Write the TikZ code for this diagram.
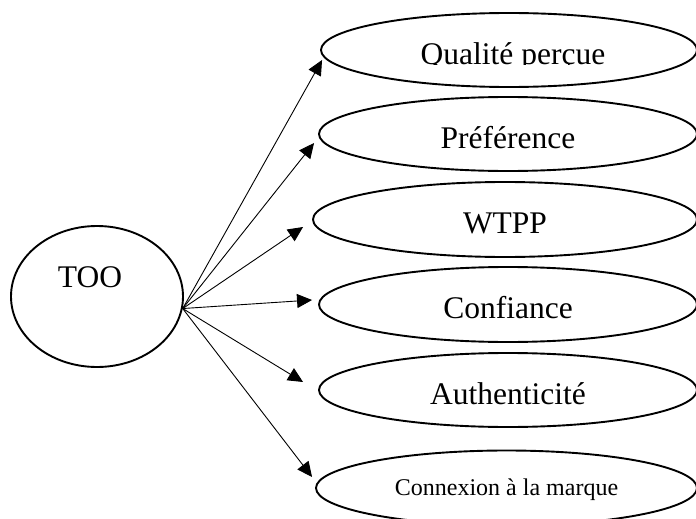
\documentclass[tikz,border=0pt]{standalone}
\usepackage{fontspec}
\setmainfont{Liberation Serif}
\usetikzlibrary{shapes.geometric,arrows.meta,calc}
\begin{document}
\begin{tikzpicture}[x=1pt,y=-1pt,
  bigfont/.style={font=\fontsize{31.5}{36}\selectfont},
  oval/.style={draw, ellipse, line width=1.9pt, inner sep=0pt, minimum height=74pt,
    bigfont, text depth=0pt, text height=28pt},
  link/.style={line width=0.9pt, -{Triangle[length=15pt,width=14pt]}}]
\useasboundingbox (0,0) rectangle (696,519);
\clip (0,0) rectangle (696,519);

\node[draw, ellipse, line width=1.9pt, minimum width=172pt, minimum height=141pt, inner sep=0pt,
  label={[name=tootxt, bigfont, inner sep=0pt, xshift=-7pt, yshift=19pt]center:TOO}] (too) at (97,296.5) {};

\node[oval, minimum width=376pt] (qual) at (509,50) {};
\begin{scope}
  \clip (300,0) rectangle (696,64.8);
  \node[bigfont, inner sep=0pt, text height=28pt, text depth=0pt] (qualtxt) at (513,50) {Qualité perçue};
\end{scope}
\node[oval, minimum width=378pt] (pref) at (508,134) {Préférence};
\node[oval, minimum width=384pt, minimum height=75pt] (wtpp) at (505,219.5) {WTPP};
\node[oval, minimum width=378pt, minimum height=75pt] (conf) at (508,304.5) {Confiance};
\node[oval, minimum width=378pt] (auth) at (508,390) {Authenticité};
\node[oval, minimum width=381pt, minimum height=75pt, font=\fontsize{24}{28}\selectfont, text height=14pt] (conn) at (506.5,488) {Connexion à la marque};

\draw[link] (too.-8) -- ($(qual.west)+(2,10)$);
\draw[link] (too.-8) -- ($(pref.west)+(-4,9)$);
\draw[link] (too.-8) -- ($(wtpp.west)+(-9,7.5)$);
\draw[link] (too.-8) -- ($(conf.west)+(-6,-4.5)$);
\draw[link] (too.-8) -- ($(auth.west)+(-15,-8)$);
\draw[link] (too.-8) -- ($(conn.west)+(-3,-11)$);
\end{tikzpicture}
\end{document}
